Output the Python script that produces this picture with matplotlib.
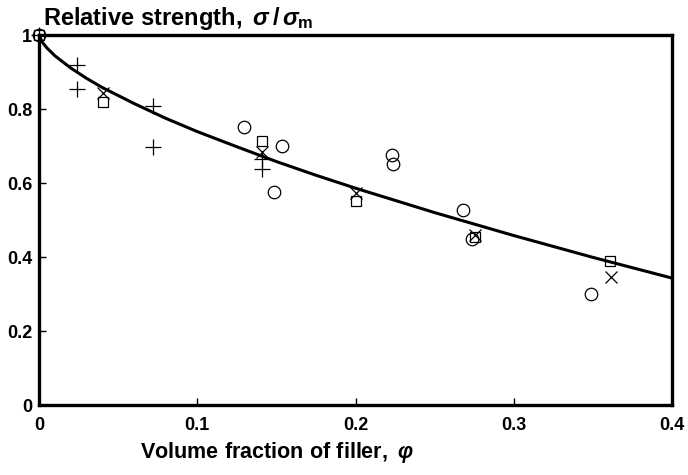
import numpy as np
import matplotlib
matplotlib.use("Agg")
import matplotlib.pyplot as plt

plt.rcParams['font.family'] = ['Liberation Sans', 'DejaVu Sans']
plt.rcParams['mathtext.fontset'] = 'custom'
plt.rcParams['mathtext.rm'] = 'Liberation Sans:bold'
plt.rcParams['mathtext.it'] = 'Liberation Sans:italic:bold'
plt.rcParams['mathtext.bf'] = 'Liberation Sans:bold'

# measured points, grouped by marker
circle_x = [0.0, 0.1296, 0.1486, 0.1536, 0.223, 0.224, 0.268, 0.2737, 0.349]
circle_y = [1.0, 0.751, 0.576, 0.700, 0.676, 0.651, 0.527, 0.449, 0.300]
square_x = [0.0, 0.0405, 0.141, 0.2004, 0.2756, 0.361]
square_y = [1.0, 0.819, 0.714, 0.551, 0.454, 0.389]
cross_x = [0.0405, 0.141, 0.2004, 0.2756, 0.3616]
cross_y = [0.843, 0.684, 0.573, 0.460, 0.346]
plus_x = [0.0, 0.024, 0.024, 0.072, 0.072, 0.141, 0.141]
plus_y = [1.0, 0.919, 0.854, 0.808, 0.697, 0.665, 0.638]

# model curve
curve_x = [0.0, 0.002, 0.005, 0.01, 0.02, 0.03, 0.04, 0.06, 0.08, 0.1, 0.125,
           0.15, 0.175, 0.2, 0.25, 0.3, 0.35, 0.4]
curve_y = [1.0, 0.981, 0.965, 0.944, 0.911, 0.883, 0.858, 0.815, 0.775, 0.739,
           0.698, 0.658, 0.621, 0.586, 0.520, 0.458, 0.399, 0.343]

xticks = [0, 0.1, 0.2, 0.3, 0.4]
xtick_labels = ['0', '0.1', '0.2', '0.3', '0.4']
yticks = [0, 0.2, 0.4, 0.6, 0.8, 1]
ytick_labels = ['0', '0.2', '0.4', '0.6', '0.8', '1']

fig = plt.figure(figsize=(6.88, 4.75), dpi=100)
ax = fig.add_axes([39 / 688, 1 - 405 / 475, (672 - 39) / 688, (405 - 35) / 475])

ax.plot(curve_x, curve_y, color='black', lw=2.2, zorder=2)
ax.plot(circle_x, circle_y, 'o', mfc='none', mec='black', mew=0.9, ms=9, zorder=3, clip_on=False)
ax.plot(square_x, square_y, 's', mfc='none', mec='black', mew=0.9, ms=7, zorder=3, clip_on=False)
ax.plot(cross_x, cross_y, 'x', color='black', mew=0.9, ms=8, zorder=3, clip_on=False)
ax.plot(plus_x, plus_y, '+', color='black', mew=0.9, ms=11, zorder=3, clip_on=False)

ax.set_xlim(0, 0.4)
ax.set_ylim(0, 1)
ax.set_xticks(xticks)
ax.set_xticklabels(xtick_labels)
ax.set_yticks(yticks)
ax.set_yticklabels(ytick_labels)
ax.tick_params(direction='in', length=5, width=1, labelsize=13, pad=9)
for lab in ax.get_xticklabels() + ax.get_yticklabels():
    lab.set_fontweight('bold')
ax.tick_params(axis='y', pad=5)
for s in ax.spines.values():
    s.set_linewidth(2.4)

fig.text(43 / 688, 1 - 25 / 475,
         r'$\mathrm{Relative\ strength,\ }\mathit{\sigma}\,/\,\mathit{\sigma}_{\mathrm{m}}$',
         fontsize=17, ha='left', va='baseline')
fig.text(140 / 688, 17 / 475, r'$\mathrm{Volume\ fraction\ of\ filler,\ }\mathit{\varphi}$',
         fontsize=15.5, ha='left', va='baseline')

fig.savefig('out.png', dpi=100)
